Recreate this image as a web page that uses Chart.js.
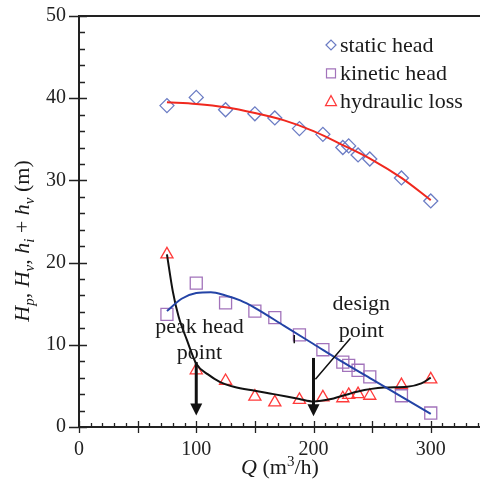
<!DOCTYPE html>
<html>
<head>
<meta charset="utf-8">
<script src="https://cdn.jsdelivr.net/npm/chart.js@4.4.0/dist/chart.umd.min.js"></script>
<style>
  html, body { margin: 0; padding: 0; background: #fff; overflow: hidden; }
</style>
</head>
<body>
<canvas id="grafica" width="480" height="485"></canvas>
<script>
  //Puntos medidos
  const caudal = [75, 100, 125, 150, 167, 188, 208, 225, 230, 238, 248, 275, 300];
  const cargaEstatica = [39.1, 40.1, 38.6, 38.1, 37.6, 36.3, 35.6, 34.0, 34.2, 33.1, 32.6, 30.3, 27.5];
  const cargaCinetica = [13.7, 17.5, 15.1, 14.1, 13.3, 11.2, 9.4, 7.9, 7.5, 6.9, 6.1, 3.8, 1.7];
  const perdidaHidraulica = [21.0, 6.9, 5.6, 3.7, 3.0, 3.3, 3.6, 3.5, 3.9, 4.0, 3.8, 5.1, 5.8];

  //Curvas de ajuste
  const qEstatica = [75, 100, 125, 150, 175, 200, 225, 250, 275, 300];
  const ajusteEstatica = [39.5, 39.3, 38.9, 38.2, 37.3, 36.0, 34.3, 32.5, 30.3, 27.6];
  const qCinetica = [75, 87.5, 100, 112.5, 125, 137.5, 150, 175, 200, 225, 250, 275, 300];
  const ajusteCinetica = [14.1, 15.6, 16.3, 16.4, 16.0, 15.4, 14.5, 12.3, 10.1, 7.9, 5.8, 3.7, 1.6];
  const qPerdida = [75, 80, 85, 92, 100, 110, 120, 132, 150, 166, 188, 200, 215, 237, 260, 280, 292, 300];
  const ajustePerdida = [21.0, 16.5, 13.4, 10.6, 7.7, 6.4, 5.5, 4.9, 4.4, 4.0, 3.4, 3.1, 3.4, 4.3, 4.8, 4.9, 5.3, 6.0];

  const etiquetas = ["static head", "kinetic head", "hydraulic loss"];
  const ticksX = [0, 100, 200, 300];

  const colorEstatica = '#6b7cc4';
  const colorCinetica = '#a273bb';
  const colorPerdida = '#ff3a3a';
  const fuente = '"Liberation Serif", "Times New Roman", serif';

  const $grafica = document.querySelector("#grafica");

  let puntos = function(xs, ys) {
    return xs.map((x, i) => ({ x: x, y: ys[i] }));
  };

  //texto con subindices / superindices
  let textoCompuesto = function(ctx, tramos, x, y) {
    const fontDe = t => (t.it ? 'italic ' : '') + ((t.sub || t.sup) ? 15 : 22) + 'px ' + fuente;
    let total = 0;
    tramos.forEach(t => { ctx.font = fontDe(t); total += ctx.measureText(t.t).width; });
    let px = x - total / 2;
    ctx.textAlign = 'left';
    ctx.textBaseline = 'alphabetic';
    tramos.forEach(t => {
      ctx.font = fontDe(t);
      const dy = t.sub ? 5 : (t.sup ? -8 : 0);
      ctx.fillText(t.t, px, y + dy);
      px += ctx.measureText(t.t).width;
    });
  };

  ///////////////Ticks hacia dentro y borde superior
  const ejes = {
    id: 'ejes',
    beforeDatasetsDraw(chart) {
      const ctx = chart.ctx, a = chart.chartArea;
      const sx = chart.scales.x, sy = chart.scales.y;
      ctx.save();
      ctx.strokeStyle = '#222';
      ctx.lineWidth = 1.3;
      ctx.beginPath();
      for (let v = 0; v <= sx.max; v += 10) {
        const px = Math.round(sx.getPixelForValue(v)) + 0.5;
        if (v % 50 === 0) { ctx.moveTo(px, a.bottom + 6); ctx.lineTo(px, a.bottom - 6); }
        else { ctx.moveTo(px, a.bottom); ctx.lineTo(px, a.bottom - 4); }
      }
      for (let v = 0; v <= sy.max; v += 2) {
        const py = Math.round(sy.getPixelForValue(v)) + 0.5;
        if (v % 10 === 0) { ctx.moveTo(a.left - 10, py); ctx.lineTo(a.left + 8, py); }
        else { ctx.moveTo(a.left, py); ctx.lineTo(a.left + 6, py); }
      }
      ctx.stroke();
      ctx.lineWidth = 2;
      ctx.beginPath();
      ctx.moveTo(a.left, a.top);
      ctx.lineTo(a.right, a.top);
      ctx.stroke();
      ctx.restore();
    }
  };

  ///////////////Flechas, textos, leyenda y titulos
  const anotaciones = {
    id: 'anotaciones',
    afterDatasetsDraw(chart) {
      const ctx = chart.ctx;
      const sx = chart.scales.x, sy = chart.scales.y;
      const X = v => sx.getPixelForValue(v), Y = v => sy.getPixelForValue(v);
      ctx.save();

      //flechas
      ctx.strokeStyle = '#111';
      ctx.fillStyle = '#111';
      const flecha = function(q, yIni, yFin) {
        const x = X(q), y0 = Y(yIni), y1 = Y(yFin);
        ctx.lineWidth = 3;
        ctx.beginPath();
        ctx.moveTo(x, y0);
        ctx.lineTo(x, y1 - 8);
        ctx.stroke();
        ctx.beginPath();
        ctx.moveTo(x - 6, y1 - 12);
        ctx.lineTo(x + 6, y1 - 12);
        ctx.lineTo(x, y1);
        ctx.closePath();
        ctx.fill();
      };
      flecha(100, 7.9, 1.4);
      flecha(200, 8.4, 1.3);

      ctx.lineWidth = 1.5;
      ctx.beginPath();
      ctx.moveTo(X(231.5), Y(10.8));
      ctx.lineTo(X(201.6), Y(5.8));
      ctx.moveTo(X(183.6), Y(11.2));
      ctx.lineTo(X(183.6), Y(10.2));
      ctx.stroke();

      ctx.fillStyle = '#1a1a1a';
      ctx.font = '22px ' + fuente;
      ctx.textAlign = 'center';
      ctx.textBaseline = 'alphabetic';
      ctx.fillText('peak head', X(102.7), Y(11.4));
      ctx.fillText('point', X(102.7), Y(8.3));
      ctx.fillText('design', X(240.8), Y(14.2));
      ctx.fillText('point', X(240.8), Y(11.0));

      //leyenda
      const marcas = ['rombo', 'cuadro', 'triangulo'];
      const colores = [colorEstatica, colorCinetica, colorPerdida];
      ctx.lineWidth = 1.2;
      etiquetas.forEach((et, i) => {
        const mx = 331, my = 45 + i * 28.3;
        ctx.strokeStyle = colores[i];
        ctx.beginPath();
        if (marcas[i] === 'rombo') {
          ctx.moveTo(mx - 5, my); ctx.lineTo(mx, my - 5); ctx.lineTo(mx + 5, my); ctx.lineTo(mx, my + 5);
        } else if (marcas[i] === 'cuadro') {
          ctx.rect(mx - 4.5, my - 4.5, 9, 9);
        } else {
          ctx.moveTo(mx, my - 6); ctx.lineTo(mx + 5.5, my + 4); ctx.lineTo(mx - 5.5, my + 4);
        }
        ctx.closePath();
        ctx.stroke();
        ctx.fillStyle = '#1a1a1a';
        ctx.font = '22px ' + fuente;
        ctx.textAlign = 'left';
        ctx.textBaseline = 'middle';
        ctx.fillText(et, 340, my + 1);
      });

      //titulo eje x
      ctx.fillStyle = '#1a1a1a';
      textoCompuesto(ctx, [
        { t: 'Q', it: true }, { t: ' (m' }, { t: '3', sup: true }, { t: '/h)' }
      ], 280, 474);

      //titulo eje y
      ctx.translate(29, 241);
      ctx.rotate(-Math.PI / 2);
      textoCompuesto(ctx, [
        { t: 'H', it: true }, { t: 'p', it: true, sub: true }, { t: ', ' },
        { t: 'H', it: true }, { t: 'v', it: true, sub: true }, { t: ', ' },
        { t: 'h', it: true }, { t: 'i', it: true, sub: true }, { t: ' + ' },
        { t: 'h', it: true }, { t: 'v', it: true, sub: true }, { t: ' (m)' }
      ], 0, 0);
      ctx.restore();
    }
  };

  let generarGrafica = function() {
    const marcador = (datos, color, estilo, radio) => ({
      data: datos,
      showLine: false,
      pointStyle: estilo,
      pointRadius: radio,
      pointBorderColor: color,
      pointBackgroundColor: 'rgba(0,0,0,0)',
      pointBorderWidth: 1.3,
      order: 1
    });
    const curva = (datos, color) => ({
      data: datos,
      showLine: true,
      borderColor: color,
      borderWidth: 2,
      pointRadius: 0,
      cubicInterpolationMode: 'monotone',
      order: 0
    });

    new Chart($grafica, {
      type: 'scatter',
      data: {
        datasets: [
          marcador(puntos(caudal, cargaEstatica), colorEstatica, 'rectRot', 7),
          marcador(puntos(caudal, cargaCinetica), colorCinetica, 'rect', 8.5),
          marcador(puntos(caudal, perdidaHidraulica), colorPerdida, 'triangle', 7),
          curva(puntos(qEstatica, ajusteEstatica), '#f0281e'),
          curva(puntos(qCinetica, ajusteCinetica), '#2343a6'),
          curva(puntos(qPerdida, ajustePerdida), '#111111')
        ]
      },
      options: {
        responsive: false,
        animation: false,
        layout: { autoPadding: false, padding: { top: 16, right: 0, left: 0, bottom: 0 } },
        plugins: { legend: { display: false }, tooltip: { enabled: false } },
        scales: {
          x: {
            type: 'linear',
            min: 0,
            max: 342,
            afterFit: s => { s.height = 58; s.paddingLeft = 0; s.paddingRight = 0; },
            grid: { display: false, drawTicks: false },
            border: { color: '#222', width: 2 },
            afterBuildTicks: s => { s.ticks = ticksX.map(v => ({ value: v })); },
            ticks: { padding: 11, color: '#222', maxRotation: 0, font: { family: fuente, size: 20 } }
          },
          y: {
            min: 0,
            max: 50,
            afterFit: s => { s.width = 79; s.paddingTop = 0; s.paddingBottom = 0; },
            grid: { display: false, drawTicks: false },
            border: { color: '#222', width: 2 },
            ticks: { stepSize: 10, padding: 13, color: '#222', font: { family: fuente, size: 20 } }
          }
        }
      },
      plugins: [ejes, anotaciones]
    });
  };

  generarGrafica();
</script>
</body>
</html>
